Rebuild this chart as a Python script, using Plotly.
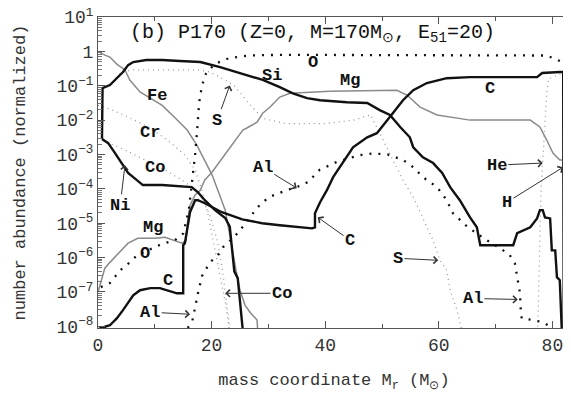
import plotly.graph_objects as go

# ---- data: x = mass coordinate Mr (Msun), y = log10(number abundance, normalized) ----
si_x = [0.7, 0.8, 2.1, 3.5, 4.4, 5.3, 6.2, 8.5, 11.3, 14.4, 18.0, 21.5, 25.0, 29.0, 32.0, 34.3, 36.8, 39.1,
        43.8, 47.4, 49.6, 51.4, 53.2, 54.9, 55.5, 57.2, 59.0, 60.6, 62.0, 63.7, 65.5, 66.7, 67.3, 73.1, 73.8,
        76.1, 77.3, 77.8, 78.3, 78.7, 79.6, 79.9, 80.5, 80.8, 81.3, 81.7]
si_y = [-2.55, -1.07, -0.98, -0.75, -0.6, -0.4, -0.31, -0.25, -0.25, -0.28, -0.31, -0.46, -0.63, -0.83, -1.04,
        -1.22, -1.36, -1.42, -1.48, -1.5, -1.71, -1.85, -2.2, -2.5, -2.79, -3.08, -3.25, -3.54, -3.95, -4.33,
        -4.83, -5.12, -5.64, -5.64, -5.29, -5.12, -4.86, -4.62, -4.62, -4.83, -4.86, -5.79, -5.79, -6.57,
        -6.66, -8.3]

ni_x = [0.7, 1.8, 3.0, 4.2, 5.3, 6.2, 7.9, 11.3, 15.8, 16.5, 17.6, 18.8, 20.6, 22.4, 23.2, 23.6, 24.0, 24.6,
        25.0, 25.4, 25.6]
ni_y = [-2.55, -2.67, -2.96, -3.25, -3.54, -3.66, -3.89, -3.89, -3.95, -3.95, -4.1, -4.33, -4.62, -4.85,
        -5.1, -5.8, -6.4, -6.6, -7.2, -7.8, -8.3]

c_x = [0.0, 0.35, 2.1, 3.3, 4.4, 5.3, 6.2, 7.4, 9.2, 10.9, 12.1, 13.9, 15.0, 15.0, 15.3, 16.2, 17.1, 17.6,
       18.8, 21.8, 25.4, 28.9, 32.0, 36.8, 37.7, 38.2, 38.2, 39.1, 40.3, 41.4, 43.1, 44.9, 47.4, 49.1, 51.9,
       53.7, 55.5, 57.9, 61.4, 65.5, 77.3, 78.2, 81.3, 81.9, 82.0]
c_y = [-8.1, -8.06, -7.97, -7.77, -7.53, -7.3, -7.1, -6.95, -6.89, -6.89, -6.95, -7.04, -7.04, -5.64, -5.58,
       -4.68, -4.33, -4.33, -4.42, -4.68, -4.89, -5.0, -5.06, -5.15, -5.15, -5.12, -4.71, -4.39, -4.04, -3.66,
       -3.25, -2.79, -2.5, -2.38, -1.8, -1.42, -1.13, -0.92, -0.78, -0.75, -0.75, -0.63, -0.6, -0.6, -8.3]

fe_x = [0.2, 1.2, 2.1, 3.3, 4.75, 5.6, 7.4, 9.2, 11.3, 13.6, 15.7, 17.4, 18.8, 20.1, 21.1, 22.4, 23.2, 23.8,
        24.3, 25.0, 25.9, 26.8, 28.0, 28.2]
fe_y = [-0.02, -0.11, -0.165, -0.37, -0.54, -0.835, -1.18, -1.36, -1.57, -1.94, -2.29, -2.73, -3.16, -3.6,
        -4.04, -4.62, -5.35, -5.93, -6.37, -6.95, -7.39, -7.6, -7.82, -8.3]

mg_x = [0.0, 0.35, 1.2, 2.1, 3.0, 4.2, 5.3, 7.0, 10.0, 11.8, 13.6, 14.8, 15.5, 15.8, 16.2, 17.1, 18.0, 18.8,
        20.1, 22.0, 23.8, 25.5, 26.2, 28.0, 29.0, 30.3, 32.0, 33.8, 40.8, 49.6, 52.6, 54.4, 56.7, 59.7, 65.5,
        76.1, 77.8, 79.0, 80.1, 81.3, 81.7]
mg_y = [-7.0, -6.8, -6.31, -6.14, -5.99, -5.79, -5.58, -5.44, -5.44, -5.41, -5.5, -5.58, -5.5, -4.92, -4.48,
        -4.18, -4.04, -3.74, -3.51, -3.08, -2.67, -2.29, -2.23, -2.06, -1.8, -1.62, -1.33, -1.22, -1.16, -1.13,
        -1.13, -1.27, -1.62, -1.85, -2.0, -2.0, -2.2, -2.58, -2.96, -3.16, -3.16]

o_x = [0.5, 2.1, 3.9, 5.6, 6.9, 11.3, 13.5, 15.0, 16.0, 16.6, 17.1, 17.5, 17.8, 18.3, 19.0, 20.5, 23.0, 26.5,
       32.0, 79.0, 80.5, 81.6, 82.1]
o_y = [-6.86, -6.74, -6.37, -6.14, -5.93, -5.6, -5.5, -5.3, -4.6, -3.8, -3.0, -2.2, -1.5, -1.0, -0.65, -0.37,
       -0.2, -0.12, -0.1, -0.12, -0.22, -0.3, -0.35]

al_x = [15.8, 16.6, 17.6, 18.3, 19.7, 21.1, 22.0, 24.0, 26.0, 28.0, 30.0, 33.0, 35.0, 37.0, 39.0, 42.0, 46.0,
        48.5, 51.0, 53.7, 55.5, 57.2, 59.7, 61.4, 62.5, 65.0, 68.0, 71.0, 72.5, 73.4, 73.8, 74.3, 74.4, 74.6,
        76.6, 78.3, 79.9]
al_y = [-8.05, -7.85, -7.04, -6.54, -6.14, -5.93, -5.7, -5.4, -5.0, -4.55, -4.25, -4.05, -3.95, -3.8, -3.45,
        -3.22, -3.02, -2.97, -3.0, -3.16, -3.37, -3.66, -3.95, -4.33, -4.71, -5.1, -5.45, -5.75, -5.93, -6.17,
        -6.57, -7.04, -7.45, -7.77, -7.82, -7.88, -8.03]

s_x = [2.0, 4.0, 6.0, 12.0, 18.0, 19.7, 21.5, 24.0, 26.5, 29.0, 33.0, 40.0, 45.0, 48.0, 50.2, 51.9, 53.7,
       55.5, 57.2, 59.0, 60.2, 61.4, 62.0, 63.2, 63.7, 64.3]
s_y = [-1.0, -0.62, -0.54, -0.54, -0.54, -0.6, -0.75, -1.0, -1.5, -1.95, -2.1, -2.1, -2.0, -1.85, -2.58,
       -3.16, -3.75, -4.24, -4.83, -5.5, -6.08, -6.37, -6.95, -7.53, -7.88, -8.3]

cr_x = [0.0, 2.1, 5.3, 9.2, 12.7, 15.3, 17.1, 18.3, 19.4, 20.4, 21.5, 22.5, 23.3]
cr_y = [-1.57, -1.68, -1.91, -2.23, -2.64, -3.02, -3.45, -4.04, -4.77, -5.64, -6.51, -7.39, -8.3]

co_x = [0.0, 2.1, 4.75, 8.3, 11.8, 15.3, 18.0, 19.7, 21.0, 21.8, 22.4, 22.9, 23.4]
co_y = [-2.53, -2.67, -2.87, -3.16, -3.45, -3.8, -4.18, -4.77, -5.5, -6.23, -7.04, -7.68, -8.3]

he_x = [77.4, 77.6, 77.8, 78.0, 78.3, 78.7, 79.0, 79.3, 81.5]
he_y = [-8.3, -6.5, -5.0, -4.0, -3.2, -2.0, -1.2, -0.8, -0.65]

h_x = [81.95, 82.05, 82.3, 82.6, 82.6, 83.5]
h_y = [-8.3, -3.4, -3.2, -3.2, -0.45, -0.45]

# plain labels: (text, x, log10 y)
labels = [("Fe", 10.4, -1.27), ("Cr", 9.2, -2.35), ("Co", 10.0, -3.37),
          ("Mg", 9.7, -5.12), ("O", 8.3, -5.88), ("C", 12.3, -6.66),
          ("Si", 30.6, -0.69), ("O", 37.9, -0.31), ("Mg", 44.4, -0.84), ("C", 69.0, -1.07)]

# labels with arrows: (text, label x, label log y, tip x, tip log y)
arrow_labels = [("Ni", 3.9, -4.48, 4.75, -3.31), ("S", 21.0, -2.0, 23.2, -0.99),
                ("Al", 29.0, -3.37, 35.0, -3.98), ("C", 44.4, -5.5, 38.7, -4.83),
                ("He", 70.2, -3.31, 78.3, -3.25), ("H", 72.0, -4.39, 81.9, -3.37),
                ("S", 52.8, -6.02, 59.9, -6.08), ("Al", 66.0, -7.19, 73.9, -7.22),
                ("Co", 32.4, -7.04, 22.4, -7.04), ("Al", 9.2, -7.59, 16.2, -7.65)]

FONT = "Liberation Mono"

fig = go.Figure()

def add(xs, ys, color, width, dash="solid"):
    fig.add_trace(go.Scatter(x=xs, y=[10 ** v for v in ys], mode="lines",
                             line=dict(color=color, width=width, dash=dash),
                             showlegend=False, hoverinfo="skip"))

GREY = "#8a8a8a"
add(s_x, s_y, "#9a9a9a", 1.3, "1px,4px")
add(cr_x, cr_y, "#9a9a9a", 1.3, "1px,4px")
add(co_x, co_y, "#9a9a9a", 1.3, "1px,4px")
add(he_x, he_y, "#9a9a9a", 1.3, "1px,4px")
add(fe_x, fe_y, GREY, 1.5)
add(mg_x, mg_y, GREY, 1.5)
add(o_x, o_y, "#111111", 2.3, "2px,7px")
add(al_x, al_y, "#111111", 2.3, "2px,7px")
add(si_x, si_y, "#111111", 2.4)
add(ni_x, ni_y, "#111111", 2.4)
add(c_x, c_y, "#111111", 2.4)
add(h_x, h_y, "#222222", 1.3)

LFONT = dict(family=FONT, size=17, color="#111")
ann = []
for t, x, y in labels:
    ann.append(dict(x=x, y=y, xref="x", yref="y", text="<b>%s</b>" % t, showarrow=False, font=LFONT))
for t, lx, ly, hx, hy in arrow_labels:
    ann.append(dict(x=hx, y=hy, ax=lx, ay=ly, xref="x", yref="y", axref="x", ayref="y",
                    text="<b>%s</b>" % t, font=LFONT, showarrow=True, arrowhead=4, arrowsize=1.4,
                    arrowwidth=1, arrowcolor="#333", borderpad=1))
ann.append(dict(x=5.3, y=0.53, xref="x", yref="y", xanchor="left", showarrow=False,
                text="(b) P170 (Z=0, M=170M<sub>\u2299</sub>, E<sub>51</sub>=20)",
                font=dict(family=FONT, size=20, color="#111")))

decades = list(range(-8, 2))
ytickvals = [10.0 ** d for d in decades]
yticktext = ["10<sup>\u2212%d</sup>" % (-d) if d < 0 else ("1" if d == 0 else "10<sup>1</sup>") for d in decades]
yminor = [k * 10.0 ** d for d in range(-8, 1) for k in range(2, 10)]

# the page body adds an 8 px offset; margins compensate so the plot area sits where the reference has it
fig.update_layout(
    width=571, height=394,
    margin=dict(l=90, r=9, t=9, b=74),
    paper_bgcolor="white", plot_bgcolor="white",
    font=dict(family=FONT, size=17, color="#222"),
    annotations=ann,
    xaxis=dict(range=[0, 83.1], tickvals=[0, 20, 40, 60, 80], ticks="inside", ticklen=7,
               tickcolor="#555", showline=True, linecolor="#555", linewidth=1.2, mirror="allticks",
               showgrid=False, zeroline=False, automargin=False, ticklabeloverflow="allow",
               minor=dict(tickvals=[10, 30, 50, 70], ticks="inside", ticklen=4, tickcolor="#555"),
               tickfont=dict(family=FONT, size=18, color="#333"),
               title=dict(text="mass coordinate M<sub>r</sub> (M<sub>\u2299</sub>)",
                          font=dict(family=FONT, size=17, color="#333"), standoff=18)),
    yaxis=dict(type="log", range=[-8.05, 1.001], tickvals=ytickvals, ticktext=yticktext, ticks="inside",
               ticklen=7, tickcolor="#555", showline=True, linecolor="#555", linewidth=1.2,
               mirror="allticks", showgrid=False, zeroline=False, automargin=False,
               ticklabeloverflow="allow",
               minor=dict(tickvals=yminor, ticks="inside", ticklen=3.5, tickcolor="#777"),
               tickfont=dict(family=FONT, size=18, color="#333"),
               title=dict(text="number abundance (normalized)",
                          font=dict(family=FONT, size=17, color="#333"), standoff=26)),
)

fig.write_html("out.html")
